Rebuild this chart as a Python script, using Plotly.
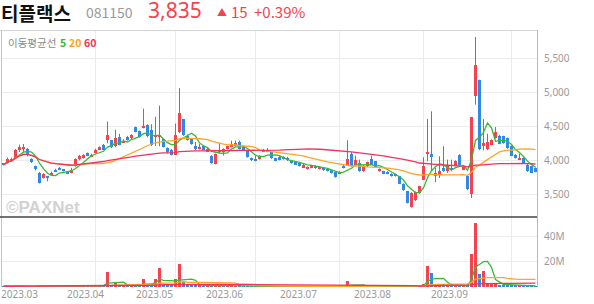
import numpy as np
import pandas as pd
import plotly.graph_objects as go

W, H = 594, 304

# ---------------- data ----------------
holidays = ["2023-03-01", "2023-05-01", "2023-05-05", "2023-05-29", "2023-06-06", "2023-08-15"]
bdays = pd.bdate_range("2023-02-28", "2023-09-11")
dates = [d for d in bdays if d.strftime("%Y-%m-%d") not in holidays]

open_ = [3951, 3961, 3985, 4034, 4150, 4170, 4167, 4020, 3912, 3814,
         3735, 3765, 3785, 3863, 3890, 3862, 3824, 3815, 3912, 4020,
         4030, 4108, 4050, 4108, 4157, 4230, 4294, 4294, 4206, 4343,
         4265, 4343, 4328, 4485, 4426, 4480, 4525, 4440, 4345, 4353,
         4310, 4181, 4157, 4085, 4412, 4600, 4360, 4310, 4206, 4167,
         4216, 4128, 4069, 3951, 4118, 4167, 4167, 4196, 4216, 4265,
         4206, 4133, 4030, 4020, 4020, 4133, 4133, 4118, 4030, 4050,
         4050, 4035, 3995, 3971, 3961, 3893, 3873, 3893, 3922, 3873,
         3883, 3878, 3853, 3824, 3805, 3922, 3937, 4094, 3937, 3961,
         3839, 3912, 4020, 3985, 3839, 3839, 3834, 3805, 3800, 3765,
         3652, 3544, 3314, 3412, 3520, 3716, 4098, 4098, 3765, 3790,
         3887, 3838, 3887, 3922, 4083, 3863, 3775, 3510, 4941, 5176,
         4216, 4167, 4230, 4328, 4363, 4353, 4328, 4206, 4083, 4010,
         4035, 3936, 3912, 3887]
close = [3931, 4020, 4025, 4157, 4196, 4196, 4085, 3970, 3865, 3670,
         3800, 3740, 3820, 3840, 3865, 3845, 3806, 3860, 4025, 4065,
         4085, 4070, 4085, 4157, 4196, 4157, 4377, 4196, 4328, 4225,
         4290, 4304, 4377, 4420, 4345, 4510, 4353, 4225, 4378, 4377,
         4200, 4115, 4083, 4377, 4700, 4370, 4300, 4245, 4167, 4196,
         4157, 4167, 3961, 4094, 4157, 4128, 4206, 4235, 4255, 4167,
         4157, 4050, 4010, 3991, 4069, 4157, 4157, 4030, 3991, 4010,
         4020, 4000, 3961, 3942, 3922, 3937, 3902, 3927, 3883, 3902,
         3853, 3844, 3814, 3755, 3834, 3888, 4015, 3922, 4010, 3839,
         3922, 3970, 3937, 3902, 3873, 3805, 3800, 3765, 3765, 3657,
         3559, 3373, 3520, 3530, 3618, 3922, 4123, 4044, 3814, 3838,
         3838, 3936, 3863, 3985, 3936, 3902, 3579, 4637, 5407, 4172,
         4255, 4265, 4294, 4412, 4245, 4255, 4181, 4069, 4035, 4035,
         3961, 3838, 3820, 3835]
high = [3960, 4040, 4040, 4165, 4230, 4240, 4180, 4030, 3920, 3830,
        3810, 3770, 3835, 3875, 3900, 3870, 3830, 3890, 4030, 4080,
        4090, 4115, 4095, 4170, 4205, 4240, 4570, 4300, 4450, 4390,
        4310, 4360, 4385, 4495, 4435, 4760, 4530, 4530, 4640, 4804,
        4320, 4190, 4165, 4540, 5060, 4610, 4380, 4320, 4270, 4240,
        4225, 4196, 4075, 4100, 4255, 4175, 4215, 4290, 4290, 4290,
        4215, 4140, 4040, 4069, 4075, 4165, 4180, 4130, 4035, 4060,
        4060, 4050, 4000, 3980, 3965, 3945, 3910, 3935, 3930, 3910,
        3890, 3885, 3860, 3830, 3840, 3935, 4294, 4120, 4069, 4010,
        3935, 3980, 4069, 3990, 3880, 3845, 3840, 3810, 3805, 3770,
        3660, 3550, 3530, 3540, 3625, 4044, 4608, 4720, 3887, 4059,
        4206, 4010, 4010, 4000, 4090, 3910, 3780, 4640, 5813, 5186,
        4608, 4392, 4310, 4490, 4375, 4360, 4335, 4215, 4090, 4098,
        4040, 3945, 3920, 3895]
low = [3925, 3950, 3975, 4025, 4120, 4120, 4060, 3960, 3850, 3660,
       3730, 3690, 3780, 3835, 3855, 3835, 3800, 3810, 3905, 4000,
       4025, 4060, 4045, 4100, 4150, 4150, 4250, 4180, 4190, 4220,
       4255, 4290, 4310, 4410, 4335, 4470, 4340, 4210, 4210, 4206,
       4190, 4100, 4075, 4080, 4400, 4360, 4290, 4230, 4150, 4160,
       4150, 4120, 3950, 3940, 4110, 4070, 4160, 4190, 4210, 4160,
       4150, 4040, 3990, 3985, 4010, 4120, 4120, 4020, 3985, 4000,
       4010, 3990, 3950, 3935, 3910, 3885, 3865, 3885, 3875, 3865,
       3845, 3835, 3805, 3745, 3795, 3880, 3930, 3910, 3930, 3830,
       3830, 3900, 3930, 3895, 3830, 3800, 3795, 3760, 3760, 3650,
       3550, 3365, 3305, 3400, 3510, 3710, 3985, 3839, 3677, 3740,
       3830, 3814, 3839, 3910, 3930, 3855, 3560, 3446, 4818, 4148,
       4147, 4150, 4220, 4320, 4240, 4245, 4170, 4060, 4025, 4005,
       3955, 3830, 3810, 3825]
volume_m = [0.6, 0.8, 0.5, 1.0, 1.2, 0.9, 0.7, 0.6, 0.6, 1.0,
            0.8, 0.5, 0.5, 0.4, 0.4, 0.3, 0.4, 0.6, 1.8, 0.8,
            0.6, 0.5, 0.5, 1.8, 0.9, 0.8, 11.7, 1.5, 4.0, 1.5,
            0.8, 0.8, 1.0, 1.2, 0.8, 6.4, 2.0, 1.5, 6.4, 15.0,
            1.5, 1.0, 0.8, 6.0, 18.0, 3.6, 2.0, 1.5, 1.2, 0.8,
            0.7, 0.6, 2.0, 1.2, 2.0, 0.8, 0.6, 0.8, 0.7, 0.8,
            0.5, 0.6, 0.5, 0.5, 0.6, 0.6, 0.5, 0.6, 0.4, 0.4,
            0.3, 0.3, 0.4, 0.3, 0.4, 0.4, 0.3, 0.3, 0.3, 0.3,
            0.3, 0.3, 0.4, 0.6, 0.4, 0.5, 4.6, 1.5, 0.7, 0.6,
            0.5, 0.4, 0.5, 0.4, 0.3, 0.3, 0.3, 0.3, 0.3, 0.5,
            0.6, 1.0, 1.5, 0.8, 0.7, 2.0, 16.5, 11.5, 2.5, 2.0,
            2.0, 1.2, 1.0, 0.8, 1.0, 0.7, 1.5, 26.0, 51.0, 10.0,
            12.5, 2.5, 2.0, 2.5, 1.8, 1.5, 1.5, 1.2, 1.0, 0.8,
            0.8, 1.0, 0.8, 0.5]

ma_windows = [5, 20, 60]
ma_colors = ["#36b936", "#ffa526", "#f0335a"]

price_ticks = [3500, 4000, 4500, 5000, 5500]
vol_ticks = [20, 40]
vol_tick_text = ["20M", "40M"]
month_labels = ["2023.03", "2023.04", "2023.05", "2023.06", "2023.07", "2023.08", "2023.09"]
month_label_pos = [3.9, 20.5, 37.7, 55.25, 73.75, 92.2, 111.5]

stock_name = "티플랙스"
stock_code = "081150"
last_price = "3,835"
change = "15"
change_pct = "+0.39%"

# ---------------- derived ----------------
n = len(close)
assert len(dates) == n == len(open_) == len(high) == len(low) == len(volume_m)
xi = np.arange(n)
o = np.array(open_, float); c = np.array(close, float)
h = np.array(high, float); l = np.array(low, float)
v = np.array(volume_m, float)
up = c > o
RED, BLUE = "#f5424e", "#2e8ae6"
month_start = [i for i in range(1, n) if dates[i].month != dates[i - 1].month and dates[i].month != 3]

px2x = lambda p: p / W
px2y = lambda p: 1 - p / H
X0, X1 = 2, 537
P_TOP, P_BOT, V_BOT = 30, 217, 287

fig = go.Figure()

def wick_trace(mask, color, yaxis, lo, hi):
    xs, ys = [], []
    for i in np.where(mask)[0]:
        xs += [i, i, None]
        ys += [lo[i], hi[i], None]
    return go.Scatter(x=xs, y=ys, mode="lines", line=dict(color=color, width=1),
                      hoverinfo="skip", showlegend=False, xaxis="x", yaxis=yaxis)

fig.add_trace(wick_trace(up, RED, "y", l, h))
fig.add_trace(wick_trace(~up, BLUE, "y", l, h))

base = np.minimum(o, c)
body = np.maximum(np.abs(c - o), 22)
for mask, col in [(up, RED), (~up, BLUE)]:
    fig.add_trace(go.Bar(x=xi[mask], y=body[mask], base=base[mask], width=0.75,
                         marker=dict(color=col, line=dict(width=0)),
                         showlegend=False, xaxis="x", yaxis="y"))

for wdw, col in zip(ma_windows, ma_colors):
    ma = pd.Series(c).rolling(wdw, min_periods=1).mean()
    fig.add_trace(go.Scatter(x=xi, y=ma, mode="lines", line=dict(color=col, width=1.3),
                             showlegend=False, xaxis="x", yaxis="y"))

# volume
vcol = np.where(up, RED, BLUE)
fig.add_trace(go.Bar(x=xi, y=v, width=0.75, marker=dict(color=list(vcol), line=dict(width=0)),
                     showlegend=False, xaxis="x2", yaxis="y2"))
for wdw, col in zip(ma_windows, ma_colors):
    ma = pd.Series(v).rolling(wdw, min_periods=1).mean()
    fig.add_trace(go.Scatter(x=xi, y=ma, mode="lines", line=dict(color=col, width=1.3),
                             showlegend=False, xaxis="x2", yaxis="y2"))

xdom = [px2x(X0), px2x(X1)]
xr = [(X0 - 3.5) / 4, (X1 - 3.5) / 4]
grid = "#ececec"
tickfont = dict(family="Noto Sans", size=10, color="#9a9a9a")

fig.update_layout(
    width=W, height=H, margin=dict(l=0, r=0, t=0, b=0),
    paper_bgcolor="white", plot_bgcolor="white",
    barmode="overlay", bargap=0, showlegend=False,
    xaxis=dict(domain=xdom, range=xr, anchor="y", tickmode="array", tickvals=month_start,
               showticklabels=False, showgrid=True, gridcolor=grid, gridwidth=1,
               zeroline=False, ticks="", showline=False),
    xaxis2=dict(domain=xdom, range=xr, anchor="y2", tickmode="array", tickvals=month_start,
                showticklabels=False, showgrid=True, gridcolor=grid, gridwidth=1,
                zeroline=False, ticks="", showline=False, matches="x"),
    yaxis=dict(domain=[px2y(P_BOT), px2y(P_TOP)], range=[3166, 5916], side="right",
               anchor="x", tickmode="array", tickvals=price_ticks, tickformat=",",
               showgrid=True, gridcolor=grid, zeroline=False, ticks="",
               tickfont=tickfont, ticklabelstandoff=6),
    yaxis2=dict(domain=[px2y(V_BOT), px2y(P_BOT)], range=[0, 55.6], side="right",
                anchor="x2", tickmode="array", tickvals=vol_ticks, ticktext=vol_tick_text,
                showgrid=True, gridcolor=grid, zeroline=False, ticks="",
                tickfont=tickfont, ticklabelstandoff=6),
)

shapes = [
    dict(type="line", xref="paper", yref="paper", x0=0, x1=px2x(X1), y0=px2y(P_TOP + 0.5), y1=px2y(P_TOP + 0.5),
         line=dict(color="#d4d4d4", width=1)),
    dict(type="line", xref="paper", yref="paper", x0=px2x(X0 - 0.5), x1=px2x(X0 - 0.5), y0=px2y(V_BOT), y1=px2y(P_TOP),
         line=dict(color="#c4c4c4", width=1)),
    dict(type="line", xref="paper", yref="paper", x0=px2x(X1 + 0.5), x1=px2x(X1 + 0.5), y0=px2y(V_BOT), y1=px2y(P_TOP),
         line=dict(color="#b8b8b8", width=1)),
    dict(type="line", xref="paper", yref="paper", x0=0, x1=px2x(X1), y0=px2y(P_BOT), y1=px2y(P_BOT),
         line=dict(color="#444444", width=1.5)),
]
fig.update_layout(shapes=shapes)

ann = []
kr = "Noto Sans CJK KR"
def A(text, x, y, size, color, family=kr, xanchor="left"):
    ann.append(dict(text=text, x=px2x(x), y=px2y(y), xref="paper", yref="paper",
                    xanchor=xanchor, yanchor="middle", showarrow=False,
                    font=dict(family=family, size=size, color=color)))

A("<b>" + stock_name + "</b>", -1, 12, 19, "#111111")
A(stock_code, 84, 12, 14, "#9a9a9a")
A(last_price, 146, 10.5, 21, "#f2444e", family="Noto Sans")
A("▲", 215, 11, 10, "#f2444e")
A(change, 229, 11.5, 15, "#f2444e")
A(change_pct, 252, 11.5, 15, "#f2444e")

A("이동평균선", 6, 42, 10.5, "#8a8a8a")
A("<b>5</b>", 58, 42, 10.5, "#2db52d")
A("<b>20</b>", 67, 42, 10.5, "#ffa31a")
A("<b>60</b>", 82, 42, 10.5, "#f0335a")

A("<b>©PAXNet</b>", 4, 207, 17, "#d2d2d2", family="Liberation Sans")

for lab, pos in zip(month_labels, month_label_pos):
    ann.append(dict(text=lab, x=pos, y=px2y(294), xref="x2", yref="paper",
                    xanchor="center", yanchor="middle", showarrow=False,
                    font=dict(family="Noto Sans", size=10, color="#9a9a9a")))
fig.update_layout(annotations=ann)

fig.write_html("out.html")
